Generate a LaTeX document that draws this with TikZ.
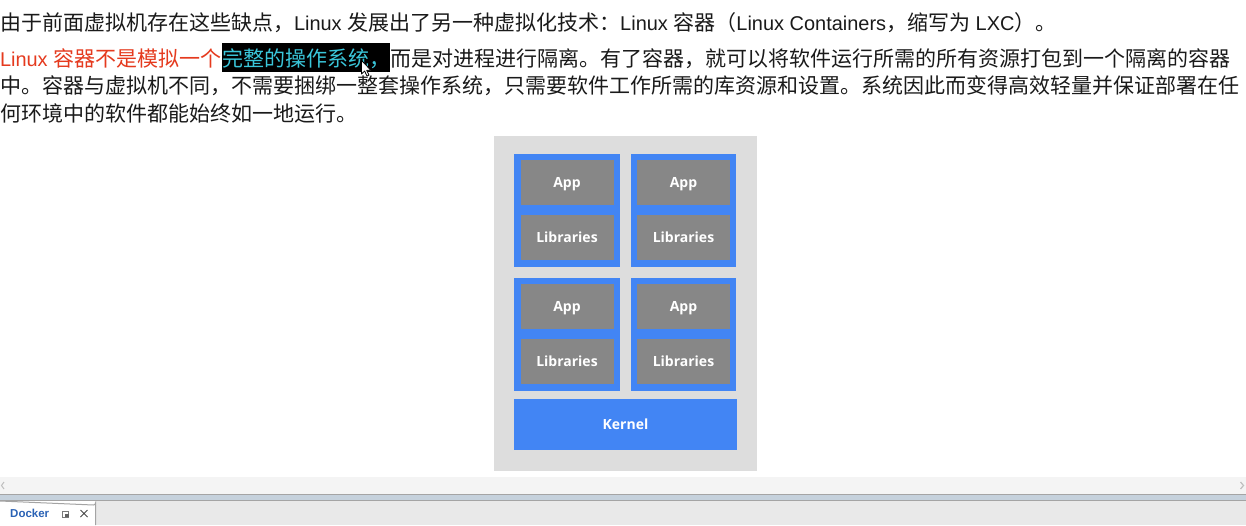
\documentclass[tikz,border=0pt]{standalone}
\usepackage{fontspec}
\setmainfont{Liberation Sans}[Scale=0.95]
\newfontfamily\cjk{Noto Sans CJK SC}
\newfontfamily\osans{Open Sans}
\newfontfamily\uifont{Liberation Sans}
\definecolor{panelgray}{HTML}{DDDDDD}
\definecolor{contblue}{HTML}{4285F4}
\definecolor{boxgray}{HTML}{878787}
\definecolor{txtred}{HTML}{E53A1E}
\definecolor{txtcyan}{RGB}{58,198,218}
\definecolor{txtblack}{HTML}{1A1A1A}
\definecolor{scrollbg}{HTML}{F4F4F4}
\definecolor{bandblue}{HTML}{C5D1DC}
\definecolor{linegray}{HTML}{A4A4A4}
\definecolor{tabbarbg}{HTML}{E9E9E9}
\definecolor{tabblue}{HTML}{2A62B5}
\definecolor{icongray}{HTML}{7A7A7A}
\begin{document}
\begin{tikzpicture}[x=1pt,y=-1pt,
  textline/.style={anchor=base west,inner sep=0pt,outer sep=0pt,font=\fontsize{21}{25}\selectfont},
  panel/.style={fill=panelgray,inner sep=0pt,outer sep=0pt,minimum width=263,minimum height=335},
  container/.style={fill=contblue,inner sep=0pt,outer sep=0pt,minimum width=105.5,minimum height=113},
  layerbox/.style={fill=boxgray,inner sep=0pt,outer sep=0pt,minimum width=93,minimum height=45,text=white,text height=10,text depth=1,font=\osans\bfseries\fontsize{14}{16}\selectfont},
  kernelbox/.style={fill=contblue,inner sep=0pt,outer sep=0pt,minimum width=223,minimum height=51,text=white,text height=10,text depth=0,font=\osans\bfseries\fontsize{14}{16}\selectfont}
]
\useasboundingbox (0,0) rectangle (1246,525);
\fill[white] (0,0) rectangle (1246,525);

% text lines
\node[textline,text=txtblack] (line1) at (0,30)
  {{\cjk 由于前面虚拟机存在这些缺点，}Linux {\cjk 发展出了另一种虚拟化技术：}Linux {\cjk 容器（}Linux Containers{\cjk ，缩写为} LXC{\cjk ）。}};
\node[textline,text=txtred] (line2a) at (0,66) {Linux {\cjk 容器不是模拟一个}};
\node[textline,fill=black,text=txtcyan,minimum width=168,text height=23,text depth=6] (line2b) at (222,66) {{\cjk 完整的操作系统，}};
\node[textline,text=txtblack] (line2c) at (390,66) {{\cjk 而是对进程进行隔离。有了容器，就可以将软件运行所需的所有资源打包到一个隔离的容器}};
\node[textline,text=txtblack] (line3) at (0,93) {{\cjk 中。容器与虚拟机不同，不需要捆绑一整套操作系统，只需要软件工作所需的库资源和设置。系统因此而变得高效轻量并保证部署在任}};
\node[textline,text=txtblack] (line4) at (0,121) {{\cjk 何环境中的软件都能始终如一地运行。}};

% mouse cursor
\filldraw[fill=white,draw=black,line width=0.8pt,line join=round]
  (361.5,60.5) -- (361.5,74) -- (364.6,71) -- (367,76) -- (369,75.2) -- (366.7,70.3) -- (371,70.3) -- cycle;

% diagram
\node[panel] (pnl) at (625.5,303.5) {};
\node[container] (c1) at (566.75,210.5) {};
\node[container] (c2) at (683.25,210.5) {};
\node[container] (c3) at (566.75,334.5) {};
\node[container] (c4) at (683.25,334.5) {};
\node[layerbox] (app1) at (567,182.5) {App};
\node[layerbox] (lib1) at (567,237.5) {Libraries};
\node[layerbox] (app2) at (683.5,182.5) {App};
\node[layerbox] (lib2) at (683.5,237.5) {Libraries};
\node[layerbox] (app3) at (567,306.5) {App};
\node[layerbox] (lib3) at (567,361.5) {Libraries};
\node[layerbox] (app4) at (683.5,306.5) {App};
\node[layerbox] (lib4) at (683.5,361.5) {Libraries};
\node[kernelbox] (kern) at (625.5,424.5) {Kernel};

% bottom bars
\fill[scrollbg] (0,477) rectangle (1246,494);
\draw[linegray,line width=1pt] (0,494.5) -- (1246,494.5);
\fill[bandblue] (0,495) rectangle (1246,500);
\draw[linegray,line width=1pt] (0,500.5) -- (1246,500.5);
\fill[tabbarbg] (0,501) rectangle (1246,525);
\fill[white] (0,501) rectangle (95.5,525);
\draw[linegray,line width=1pt] (95.5,525) -- (95.5,503) arc[start angle=0,end angle=90,radius=2] -- (0,501);
\draw[linegray!70,line width=1pt] (4,482) -- (1.5,485.5) -- (4,489);
\draw[linegray!70,line width=1.2pt] (1240.5,482) -- (1243.5,485.5) -- (1240.5,489);
\node[anchor=west,inner sep=0pt,text=tabblue,font=\uifont\bfseries\fontsize{11.5}{13}\selectfont] (tab) at (10,513) {Docker};
\draw[icongray,line width=0.7pt] (62.5,511) rectangle (68.5,517);
\fill[icongray!80!black] (65,513.5) rectangle (68.5,517);
\draw[icongray!60!black,line width=1pt] (80.5,510) -- (87.5,517) (80.5,517) -- (87.5,510);
\end{tikzpicture}
\end{document}
